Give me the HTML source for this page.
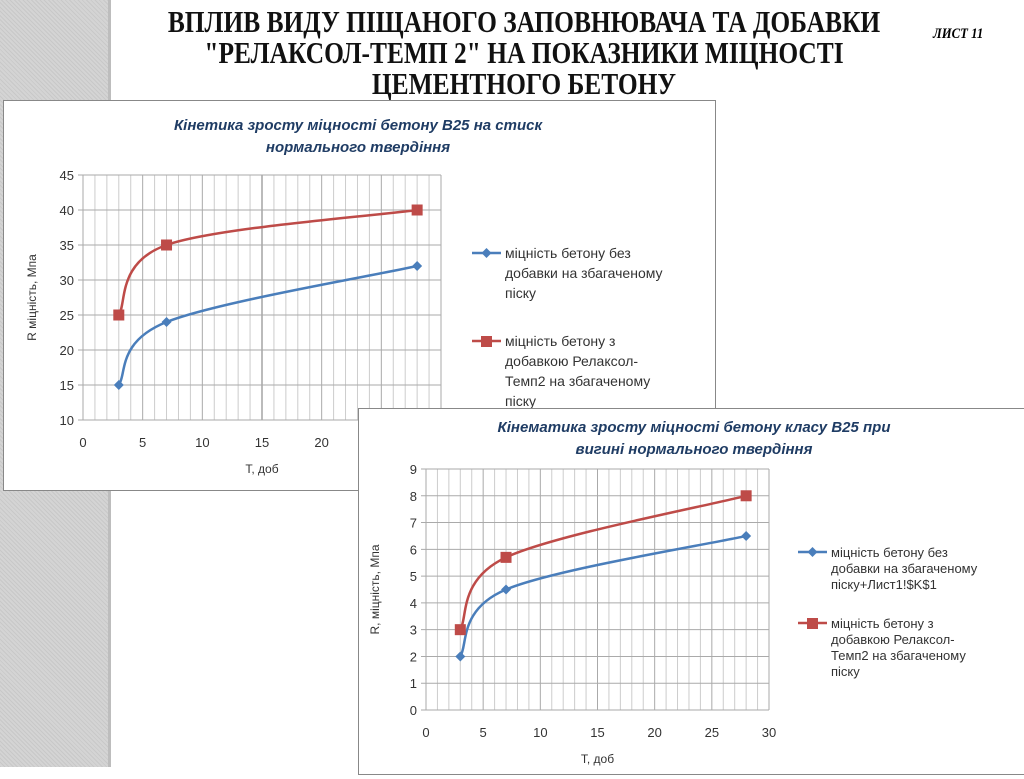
<!DOCTYPE html>
<html><head><meta charset="utf-8"><style>
body{margin:0;width:1024px;height:767px;overflow:hidden;background:#fff;position:relative;font-family:"Liberation Sans",sans-serif}
#strip{position:absolute;left:0;top:0;width:108px;height:767px;background:repeating-linear-gradient(45deg,#c8c8c8 0 1px,#d4d4d4 1px 3px);border-right:3px solid #bdbdbd}
#title{position:absolute;left:24px;top:6px;width:1000px;text-align:center;font-family:"Liberation Serif",serif;font-weight:bold;font-size:31px;line-height:31px;color:#111}
#title div{transform:scaleX(0.82);white-space:nowrap}
#sheet{position:absolute;left:933px;top:26px;font-family:"Liberation Serif",serif;font-style:italic;font-weight:bold;font-size:15px;transform:scaleX(0.85);transform-origin:left}
.frame{position:absolute;background:#fff;border:1.5px solid #888}
svg text{font-family:"Liberation Sans","DejaVu Sans",sans-serif}
</style></head><body>
<div id="strip"></div>
<div id="title"><div>ВПЛИВ ВИДУ ПІЩАНОГО ЗАПОВНЮВАЧА ТА ДОБАВКИ</div><div>"РЕЛАКСОЛ-ТЕМП 2" НА ПОКАЗНИКИ МІЦНОСТІ</div><div>ЦЕМЕНТНОГО БЕТОНУ</div></div>
<div id="sheet">ЛИСТ 11</div>
<div class="frame" style="left:3px;top:100px;width:711px;height:389px">
<svg id="c1" width="711" height="389"></svg></div>
<div class="frame" style="left:358px;top:408px;width:670px;height:365px">
<svg id="c2" width="670" height="365"></svg></div>
<script>
const days=[3,7,28];
const c1Base=[15,24,32];
const c1Add=[25,35,40];
const c1YTicks=[10,15,20,25,30,35,40,45];
const c1XTicks=[0,5,10,15,20,25,30];
const c2Base=[2,4.5,6.5];
const c2Add=[3,5.7,8];
const c2YTicks=[0,1,2,3,4,5,6,7,8,9];
const c2XTicks=[0,5,10,15,20,25,30];
const NS='http://www.w3.org/2000/svg';
function mk(p,t,a){const e=document.createElementNS(NS,t);for(const k in a)e.setAttribute(k,a[k]);p.appendChild(e);return e;}
function smooth(pts){let d='M'+pts[0][0]+','+pts[0][1];for(let i=0;i<pts.length-1;i++){const p0=pts[i-1]||pts[i],p1=pts[i],p2=pts[i+1],p3=pts[i+2]||p2;const t=1/6;d+=' C'+(p1[0]+(p2[0]-p0[0])*t)+','+(p1[1]+(p2[1]-p0[1])*t)+' '+(p2[0]-(p3[0]-p1[0])*t)+','+(p2[1]-(p3[1]-p1[1])*t)+' '+p2[0]+','+p2[1];}return d;}
function chart(svg,o){
 const X=v=>o.x0+(v-o.xmin)/(o.xmax-o.xmin)*o.w, Y=v=>o.y0-(v-o.ymin)/(o.ymax-o.ymin)*o.h;
 for(let v=o.xmin;v<=o.xmax;v++){const l=mk(svg,'line',{x1:X(v),x2:X(v),y1:o.y0-o.h,y2:o.y0,stroke:v%5==0?(v==15&&o.dark15?'#777':'#aaa'):'#ccc','stroke-width':1});}
 o.yt.forEach(v=>{const l=mk(svg,'line',{x1:o.x0-5,x2:o.x0+o.w,y1:Y(v),y2:Y(v),stroke:'#aaa'});
  const t=mk(svg,'text',{x:o.x0-9,y:Y(v)+5,'text-anchor':'end','font-size':13,fill:'#333'});t.textContent=v;});
 o.xt.forEach(v=>{const t=mk(svg,'text',{x:X(v),y:o.y0+27,'text-anchor':'middle','font-size':13,fill:'#333'});t.textContent=v;});
 let t=mk(svg,'text',{x:o.x0+o.w/2,y:o.y0+53,'text-anchor':'middle','font-size':12,fill:'#333'});t.textContent='Т, доб';
 t=mk(svg,'text',{transform:'translate('+(o.x0-47)+','+(o.y0-o.h/2)+') rotate(-90)','text-anchor':'middle','font-size':12,fill:'#333'});t.textContent=o.ylab;
 o.title.forEach((s,i)=>{const e=mk(svg,'text',{x:o.tx,y:o.ty+i*22,'text-anchor':'middle','font-size':15,'font-weight':'bold','font-style':'italic',fill:'#1f3c64'});e.textContent=s;});
 [[o.s1,'#4a7ebb','d'],[o.s2,'#be4b48','s']].forEach(([s,c,m])=>{
  const p=mk(svg,'path',{d:smooth(days.map((d,i)=>[X(d),Y(s[i])])),fill:'none',stroke:c,'stroke-width':2.5});
  days.forEach((d,i)=>{let e;if(m=='s')e=mk(svg,'rect',{x:X(d)-5.5,y:Y(s[i])-5.5,width:11,height:11,fill:c});else e=mk(svg,'path',{d:'M'+X(d)+','+(Y(s[i])-5)+' l5,5 l-5,5 l-5,-5z',fill:c});});});
 o.leg.forEach((L,k)=>{const c=k?'#be4b48':'#4a7ebb';const y=o.ly[k];
  mk(svg,'line',{x1:o.lx,x2:o.lx+29,y1:y,y2:y,stroke:c,'stroke-width':2.5});
  const e=k?mk(svg,'rect',{x:o.lx+9,y:y-5,width:11,height:11,fill:c}):mk(svg,'path',{d:'M'+(o.lx+14.5)+','+(y-5)+' l5,5 l-5,5 l-5,-5z',fill:c});
  
  L.forEach((s,i)=>{const t=mk(svg,'text',{x:o.lx+33,y:y+5+i*o.lh,'font-size':o.lf,fill:'#333'});t.textContent=s;});});
}
chart(document.getElementById('c1'),{x0:79,y0:319,w:358,h:245,xmin:0,xmax:30,ymin:10,ymax:45,yt:c1YTicks,xt:c1XTicks,s1:c1Base,s2:c1Add,dark15:true,ylab:'R міцність, Мпа',title:['Кінетика зросту міцності бетону В25 на стиск','нормального твердіння'],tx:354,ty:29,lx:468,ly:[152,240],lf:14,lh:20,
 leg:[['міцність бетону без','добавки на збагаченому','піску'],['міцність бетону з','добавкою Релаксол-','Темп2 на збагаченому','піску']]});
chart(document.getElementById('c2'),{x0:67,y0:301,w:343,h:241,xmin:0,xmax:30,ymin:0,ymax:9,yt:c2YTicks,xt:c2XTicks,s1:c2Base,s2:c2Add,ylab:'R, міцність, Мпа',title:['Кінематика зросту міцності бетону класу В25 при','вигині нормального твердіння'],tx:335,ty:23,lx:439,ly:[143,214],lf:13,lh:16,
 leg:[['міцність бетону без','добавки на збагаченому','піску+Лист1!$K$1'],['міцність бетону з','добавкою Релаксол-','Темп2 на збагаченому','піску']]});
</script>
</body></html>
